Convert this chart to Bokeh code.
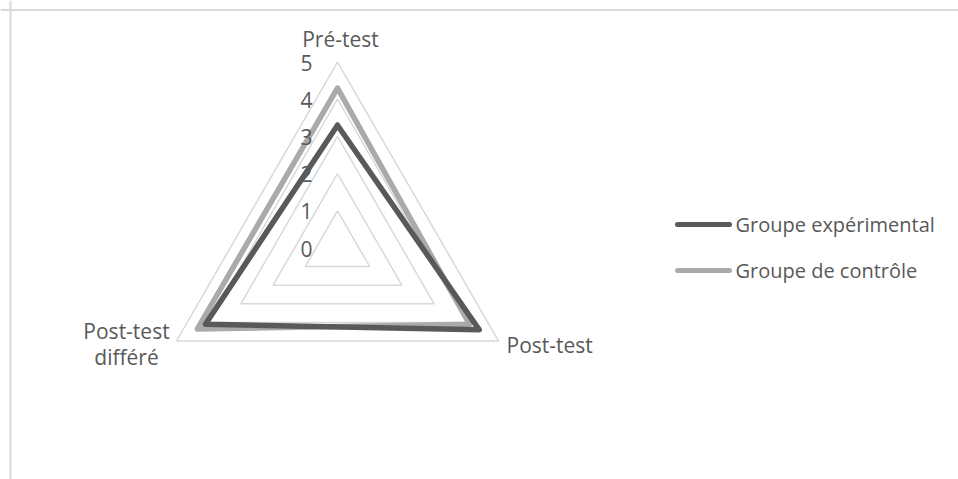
import numpy as np
from bokeh.plotting import figure
from bokeh.models import Range1d, Span
from bokeh.core.properties import value
from bokeh.embed import file_html
from bokeh.resources import INLINE

categories = ["Pré-test", "Post-test", "Post-test\ndifféré"]
series_names = ["Groupe expérimental", "Groupe de contrôle"]
experimental = [3.3, 4.4, 4.1]
controle = [4.3, 4.1, 4.35]
ring_values = [1, 2, 3, 4, 5]
tick_labels = ["0", "1", "2", "3", "4", "5"]

colors = ["#595959", "#aaaaaa"]
grid_color = "#d9d9d9"
text_color = "#595959"
FONT = "Open Sans"

W, H = 958, 479
U = 37.2            # pixels per value unit
CX, CY = 337.0, 247.5  # centre in page pixels
TXT = -7.0          # baseline correction for text

def dx(px):
    return (px - CX) / U

def dy(py):
    return (CY - py) / U

p = figure(width=W, height=H, output_backend="svg", toolbar_location=None,
           x_range=Range1d(-CX / U, (W - CX) / U),
           y_range=Range1d(-(H - CY) / U, CY / U),
           min_border=0)
p.axis.visible = False
p.grid.visible = False
p.outline_line_color = None
p.background_fill_color = "white"

angles = np.pi / 2 - np.arange(len(categories)) * 2 * np.pi / len(categories)

def poly(vals):
    v = np.asarray(vals, dtype=float)
    xs = v * np.cos(angles)
    ys = v * np.sin(angles)
    return list(xs) + [xs[0]], list(ys) + [ys[0]]

# grid rings
for r in ring_values:
    xs, ys = poly([r] * len(categories))
    p.line(xs, ys, line_color=grid_color, line_width=1.5)

# series
for vals, col in zip([controle, experimental], [colors[1], colors[0]]):
    xs, ys = poly(vals)
    p.line(xs, ys, line_color=col, line_width=5.5, line_join="round", line_cap="round")

# value axis labels
p.text(x=[dx(312)] * len(tick_labels),
       y=[i + (-(7.5 + TXT) / U) for i in range(len(tick_labels))],
       text=tick_labels, text_align="right", text_baseline="alphabetic",
       text_color=text_color, text_font=value(FONT), text_font_size="21px")

# category labels
cat_pos = [(340, 45, "center"), (506, 351, "left"), (126, 337, "center")]
for lab, (px, py, al) in zip(categories, cat_pos):
    lines = lab.split("\n")
    p.text(x=[dx(px)] * len(lines), y=[dy(py + TXT + 26 * i) for i in range(len(lines))],
           text=lines, text_align=al, text_baseline="alphabetic",
           text_color=text_color, text_font=value(FONT), text_font_size="21px")

# legend
leg_y = [224, 270]
for name, col, ly in zip(series_names, colors, leg_y):
    p.line([dx(677), dx(729)], [dy(ly), dy(ly)], line_color=col, line_width=5, line_cap="round")
    p.text(x=[dx(735)], y=[dy(ly + 7 + TXT)], text=[name], text_align="left",
           text_baseline="alphabetic", text_color=text_color,
           text_font=value(FONT), text_font_size="20px")

# chart area border (left and top visible)
p.add_layout(Span(location=dx(10), dimension="height", line_color=grid_color, line_width=2))
p.add_layout(Span(location=dy(9.5), dimension="width", line_color=grid_color, line_width=2))

open("out.html", "w").write(file_html(p, INLINE))
